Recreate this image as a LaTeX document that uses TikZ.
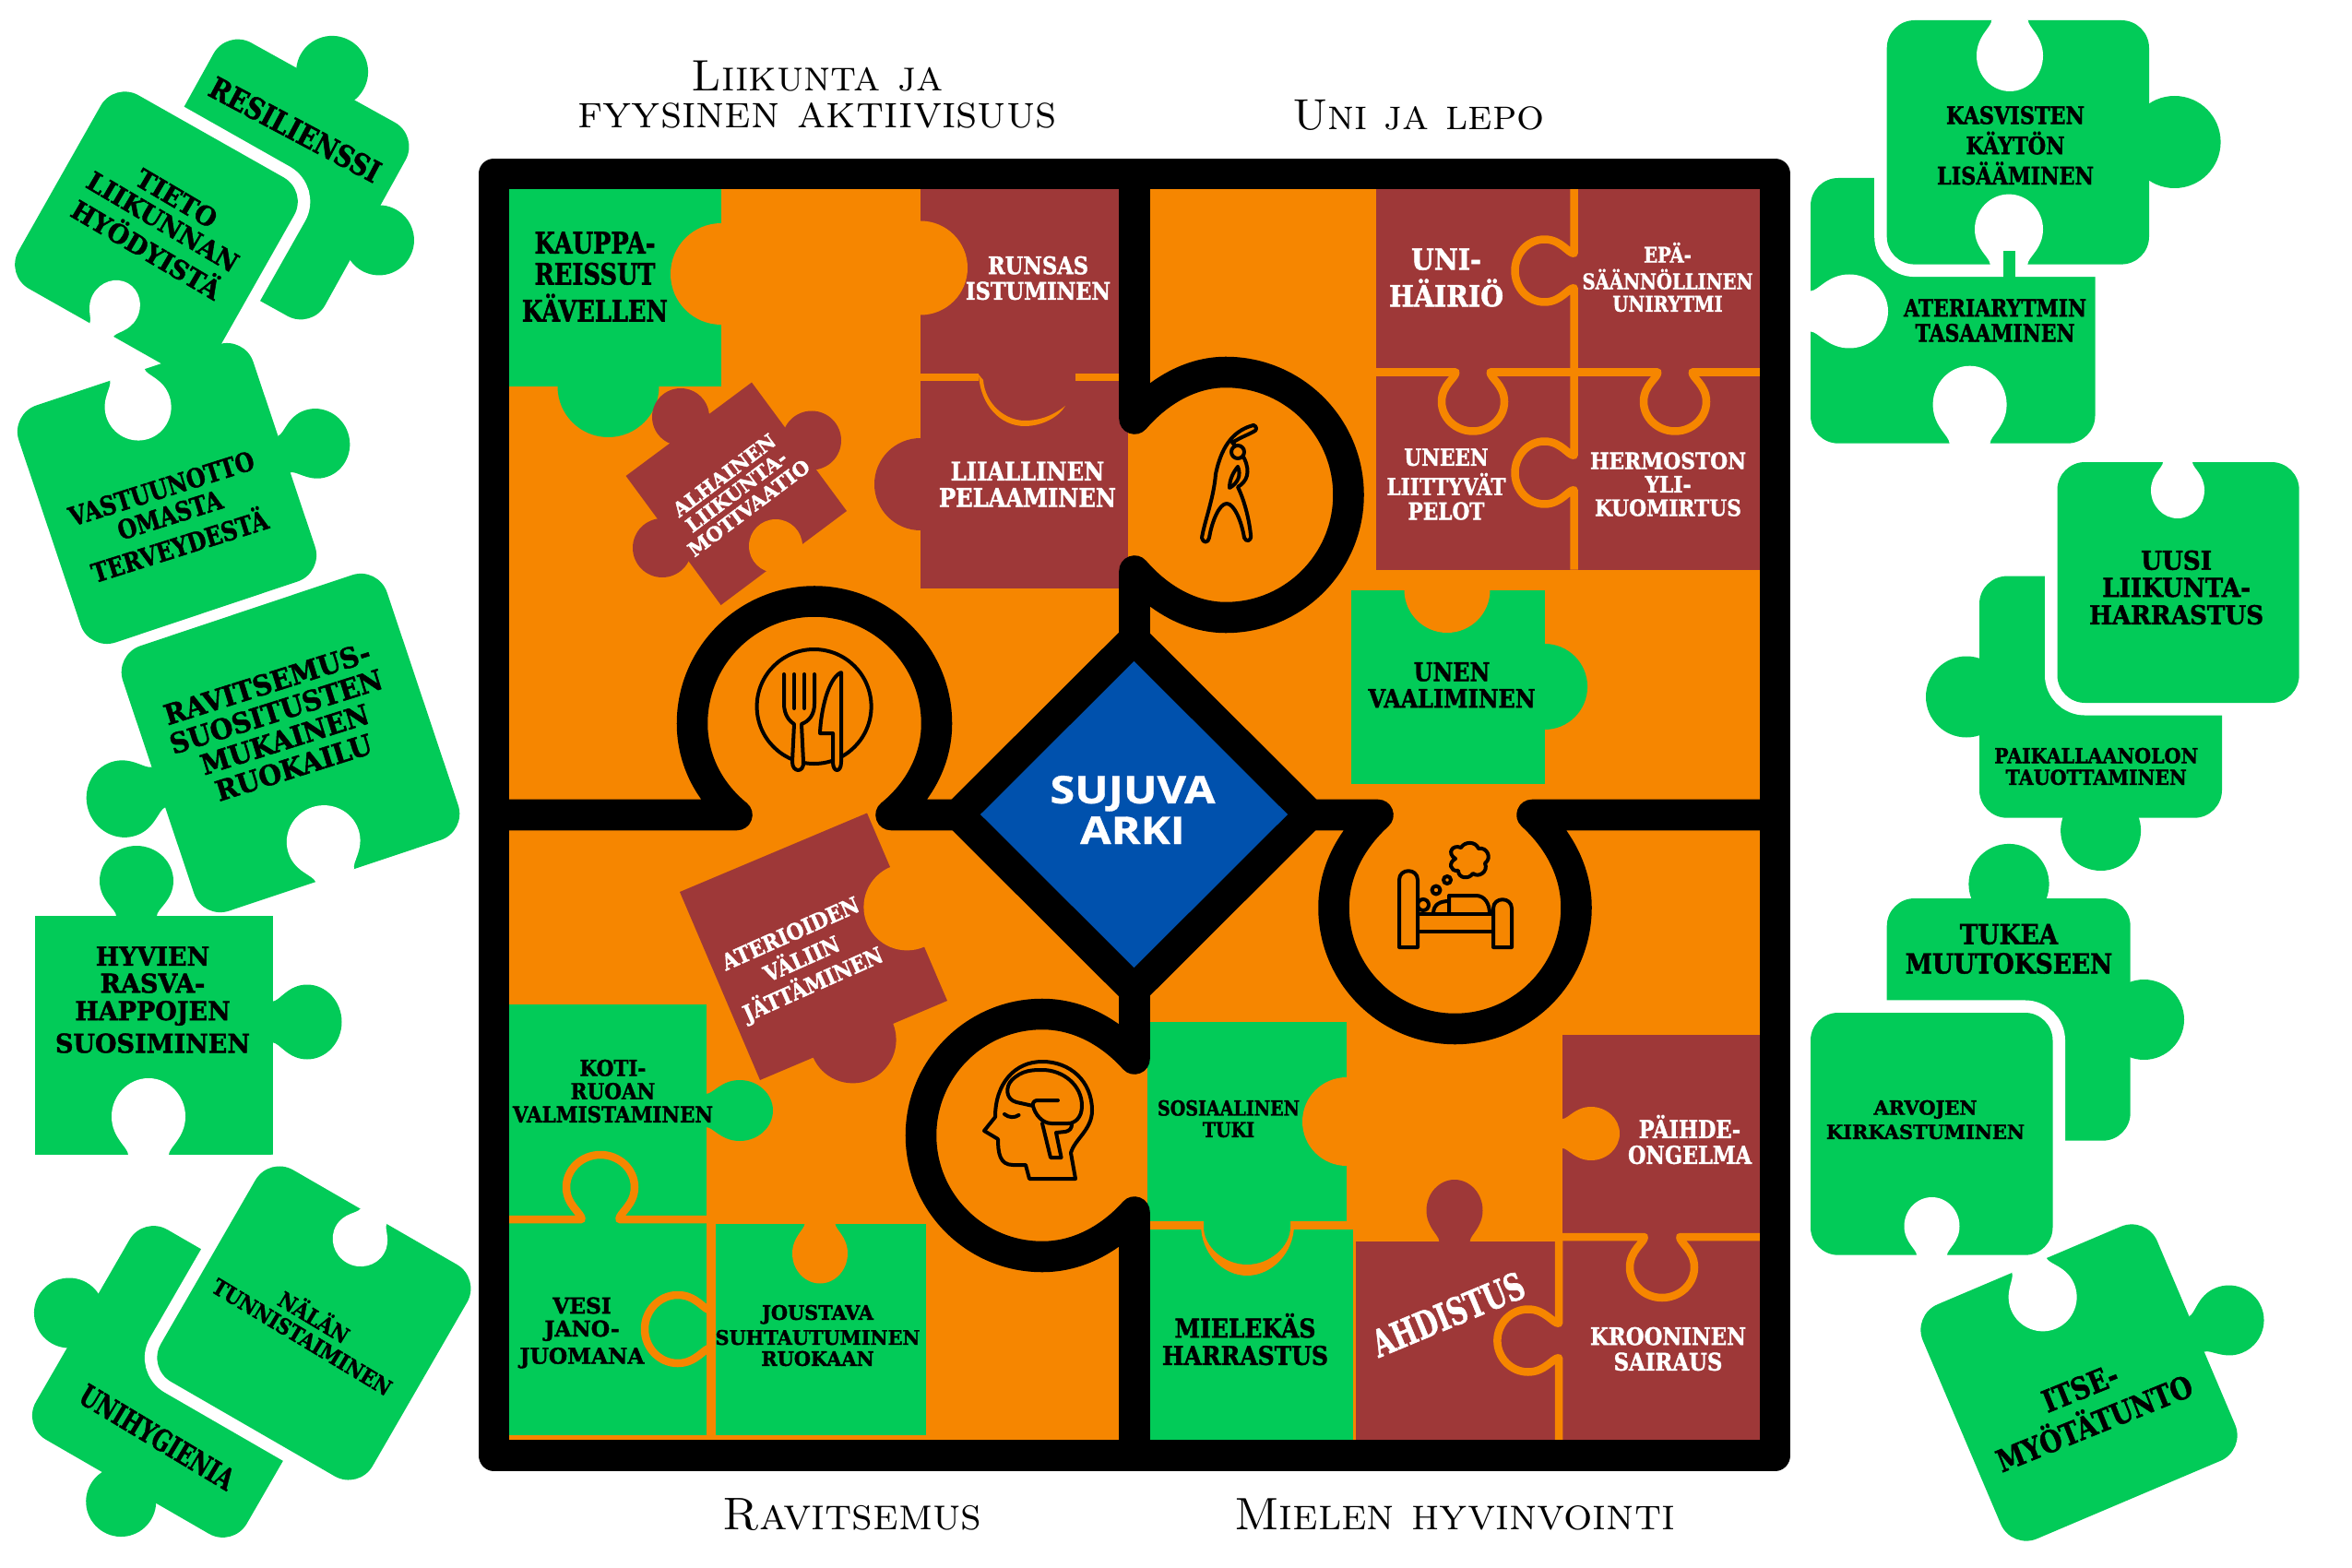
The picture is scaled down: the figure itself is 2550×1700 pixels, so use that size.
\documentclass[tikz,border=0pt]{standalone}
\usepackage{graphicx}
\usepackage{fontspec}
\usepackage{tikz}
\newfontfamily\stencilfont{DejaVu Serif}[BoldFeatures={FakeBold=1.6}]
\newfontfamily\arkifont{Open Sans}[BoldFeatures={FakeBold=0.8}]
\definecolor{pgreen}{RGB}{2,203,88}
\definecolor{porange}{RGB}{246,134,0}
\definecolor{pmaroon}{RGB}{158,56,56}
\definecolor{pblue}{RGB}{0,81,173}
\newlength{\pxu}
\setlength{\pxu}{0.01cm}
\newcommand{\stl}[3]{\resizebox{#1\pxu}{#2\pxu}{\stencilfont\bfseries\shortstack{#3}}}
\newcommand{\ttl}[2]{\resizebox{#1\pxu}{!}{\scshape #2}}
\newcommand{\knobh}[4]{-- ({#1-.55*(#4)},#2) .. controls ({#1-.55*(#4)},{#2+.1*(#3)}) and ({#1-(#4)},{#2+.22*(#3)}) .. ({#1-(#4)},{#2+.5*(#3)}) .. controls ({#1-(#4)},{#2+.775*(#3)}) and ({#1-.55*(#4)},{#2+(#3)}) .. (#1,{#2+(#3)}) .. controls ({#1+.55*(#4)},{#2+(#3)}) and ({#1+(#4)},{#2+.775*(#3)}) .. ({#1+(#4)},{#2+.5*(#3)}) .. controls ({#1+(#4)},{#2+.22*(#3)}) and ({#1+.55*(#4)},{#2+.1*(#3)}) .. ({#1+.55*(#4)},#2)}
\newcommand{\knobv}[4]{-- (#2,{#1-.55*(#4)}) .. controls ({#2+.1*(#3)},{#1-.55*(#4)}) and ({#2+.22*(#3)},{#1-(#4)}) .. ({#2+.5*(#3)},{#1-(#4)}) .. controls ({#2+.775*(#3)},{#1-(#4)}) and ({#2+(#3)},{#1-.55*(#4)}) .. ({#2+(#3)},#1) .. controls ({#2+(#3)},{#1+.55*(#4)}) and ({#2+.775*(#3)},{#1+(#4)}) .. ({#2+.5*(#3)},{#1+(#4)}) .. controls ({#2+.22*(#3)},{#1+(#4)}) and ({#2+.1*(#3)},{#1+.55*(#4)}) .. (#2,{#1+.55*(#4)})}
\newcommand{\tabh}[5]{\fill[#1] (#2,{#3-.15*(#4)}) \knobh{#2}{#3}{#4}{#5} -- cycle;}
\newcommand{\tabv}[5]{\fill[#1] ({#3-.15*(#4)},#2) \knobv{#2}{#3}{#4}{#5} -- cycle;}

\begin{document}
\begin{tikzpicture}[
    x=0.01cm, y=-0.01cm,
    lab/.style={inner sep=0pt, text=black},
    labw/.style={lab, text=white},
    title/.style={inner sep=0pt, text=black},
    card/.style={fill=pgreen, rounded corners=.3cm},
    cardtop/.style={card, preaction={draw=white, line width=.27cm}},
    wall/.style={draw=black, line width=.335cm, line cap=round, line join=round},
    seam/.style={draw=porange, line width=.085cm, line join=round},
    ico/.style={draw=black, line width=.04cm, line join=round, line cap=round}
]
\useasboundingbox (0,0) rectangle (2550,1700);

\begin{scope}[shift={(292,194.5)}, rotate=-29]
  \fill[card] (-119,-120) rectangle (119,120);
  \fill[pgreen] (3,-135) circle (39);
  \fill[pgreen] (136,0) circle (38);
\end{scope}
\begin{scope}[shift={(169.5,252.7)}, rotate=-29.5]
  \path[cardtop] (-120.5,-120.5) rectangle (120.5,120.5);
  \tabh{white}{0}{120.5}{-58}{27}
\end{scope}
\begin{scope}[shift={(181,535)}, rotate=18.5]
  \fill[card] (-134,-135.5) rectangle (134,135.5);
  \tabh{white}{0}{-135.5}{73}{36}
  \tabv{pgreen}{0}{134}{73}{38}
\end{scope}
\begin{scope}[shift={(315,805.5)}, rotate=18.5]
  \fill[card] (-151,-151.5) rectangle (151,151.5);
  \tabv{pgreen}{0}{-151}{-80}{42}
  \tabh{white}{0}{151.5}{-78}{40}
\end{scope}

\fill[pgreen] (38,993) rectangle (295.5,1252);
\tabh{pgreen}{148}{993}{-76}{40}
\tabv{pgreen}{1108}{295.5}{75}{40.5}
\tabh{white}{161}{1252}{-83}{40}

\begin{scope}[shift={(204,1498)}, rotate=-30]
  \fill[card] (-132,-131.5) rectangle (132,131.5);
  \fill[pgreen] (-149,0) circle (38);
  \fill[pgreen] (2,149) circle (38);
\end{scope}
\begin{scope}[shift={(340.4,1434.5)}, rotate=-30]
  \path[cardtop] (-132.5,-132.5) rectangle (132.5,132.5);
  \tabh{white}{-2}{-132.5}{58}{30}
\end{scope}

\fill[card] (1963,193) rectangle (2271.5,480.7);
\tabv{white}{337.5}{1963}{84}{40}
\tabh{white}{2135.6}{480.7}{-84}{40}
\path[cardtop] (2045.7,22) rectangle (2330,286.6);
\tabh{white}{2179}{22}{77}{36}
\fill[pgreen] (2357.6,154) circle (50);
\tabh{white}{2178}{286.6}{-76}{37}
\fill[pgreen] (2172,272) rectangle (2185,302);

\fill[card] (2146,624.6) rectangle (2409,886.7);
\fill[pgreen] (2132,755.5) circle (44);
\fill[pgreen] (2277.6,900.5) circle (43.5);
\path[cardtop] (2230.5,501) rectangle (2492.7,762);
\tabh{white}{2361}{501}{61}{29}

\fill[card] (2045.7,974) rectangle (2309.7,1236.7);
\fill[pgreen] (2178,958.5) circle (43.6);
\fill[pgreen] (2324.5,1105.5) circle (43.5);
\path[cardtop] (1963,1098) rectangle (2225.5,1360.7);
\tabh{white}{2094.5}{1360.7}{-62.7}{30}

\begin{scope}[shift={(2254,1499)}, rotate=23]
  \fill[card] (-138,-138) rectangle (138,138);
  \tabh{white}{0}{-138}{74.4}{37}
  \tabv{pgreen}{1.4}{138}{76}{38}
\end{scope}

\fill[porange] (536,189) rectangle (1924,1578);

\fill[pgreen] (552,205) rectangle (782,419);
\fill[porange] (782,297) circle (55);
\fill[pgreen] (659.5,419) circle (55);

\fill[pmaroon] (998,205) rectangle (1213,415);
\fill[porange] (998,290.5) circle (51);
\fill[pmaroon] (998,412) rectangle (1223,638);
\fill[pmaroon] (998,525) circle (50);
\draw[seam] (998,409) -- (1061,409);
\draw[seam] (1166,409) -- (1213,409);
\fill[porange] (1061,406) .. controls (1063,440) and (1085,462) .. (1111,462) .. controls (1130,462) and (1148,452) .. (1155,440) .. controls (1140,452) and (1125,456) .. (1111,456) .. controls (1090,456) and (1068,438) .. (1066,412) -- cycle;

\fill[pmaroon] (815,414.6) -- (918,554) -- (781.6,656) -- (678.6,516) -- cycle;
\fill[pmaroon] (738,452) circle (31);
\fill[pmaroon] (880,477.5) circle (32);
\fill[pmaroon] (718,594) circle (32);
\fill[porange] (841,592) circle (29);

\fill[pgreen] (1465,639.5) rectangle (1674.6,850);
\fill[porange] (1569,639.5) circle (46.5);
\fill[pgreen] (1674.6,744.5) circle (46.5);

\fill[pmaroon] (1492,205) rectangle (1908,617.5);
\draw[seam] (1706.5,205) \knobv{293.5}{1706.5}{-64}{34} \knobv{512.5}{1706.5}{-64}{34} -- (1706.5,617.5);
\draw[seam] (1492,403.5) \knobh{1597}{403.5}{64}{34} \knobh{1816}{403.5}{64}{34} -- (1908,403.5);

\fill[pmaroon] (940,881.5) -- (1027,1085) -- (824,1171) -- (737,967) -- cycle;
\fill[porange] (983.4,983.4) circle (47);
\fill[pmaroon] (924.6,1127.4) circle (47);

\fill[pgreen] (552,1089) rectangle (766,1325);
\fill[pgreen] (552,1322) rectangle (766,1556);
\fill[pgreen] (775.5,1326.5) rectangle (1004,1556);
\tabv{pgreen}{1204}{766}{72}{33}
\tabh{porange}{889}{1326.5}{65}{30}
\draw[seam] (552,1322) \knobh{651}{1322}{-70}{37} -- (775,1322);
\draw[seam] (770.6,1322) \knobv{1441}{770.6}{-71.6}{37} -- (770.6,1556);

\fill[pgreen] (1244,1108) rectangle (1460,1323.5);
\fill[porange] (1460,1216) circle (48);
\fill[pgreen] (1244,1333) rectangle (1467,1562);
\fill[porange] (1244,1323.5) rectangle (1467,1333);
\fill[porange] (1302,1328) .. controls (1302,1358) and (1325,1383) .. (1352,1383) .. controls (1379,1383) and (1403,1358) .. (1403,1328) -- cycle;
\fill[pgreen] (1305,1323) -- (1305,1330) .. controls (1305,1352) and (1328,1371) .. (1352,1371) .. controls (1376,1371) and (1399,1352) .. (1399,1330) -- (1399,1323) -- cycle;

\fill[pmaroon] (1694,1121.5) rectangle (1908,1350);
\fill[pmaroon] (1470,1345.5) rectangle (1908,1562);
\tabv{porange}{1229}{1694}{62}{29}
\tabh{pmaroon}{1577}{1345.5}{-66.5}{30.5}
\draw[seam] (1686,1341) \knobh{1802}{1341}{66}{35} -- (1908,1341);
\draw[seam] (1690,1337) \knobv{1453.5}{1690}{-66.6}{34} -- (1690,1562);

\draw[wall] (535.5,188.5) rectangle (1924.5,1578);
\draw[wall] (1230,195) -- (1230,454) .. controls (1255,425) and (1290,403.5) .. (1329,403.5) .. controls (1402.5,403.5) and (1462,463) .. (1462,536.5) .. controls (1462,610) and (1402.5,669.5) .. (1329,669.5) .. controls (1290,669.5) and (1255,648) .. (1230,619) -- (1230,700);
\draw[wall] (1230,1060) -- (1230,1148) .. controls (1205,1120) and (1170,1099.5) .. (1130,1099.5) .. controls (1057.4,1099.5) and (998.5,1158.4) .. (998.5,1231) .. controls (998.5,1303.6) and (1057.4,1362.5) .. (1130,1362.5) .. controls (1170,1362.5) and (1205,1342) .. (1230,1314) -- (1230,1570);
\draw[wall] (545,883.5) -- (799,883.5) .. controls (770,860) and (750.5,825) .. (750.5,784.5) .. controls (750.5,711.3) and (809.8,652) .. (883,652) .. controls (956.2,652) and (1015.5,711.3) .. (1015.5,784.5) .. controls (1015.5,825) and (995,860) .. (966,883.5) -- (1050,883.5);
\draw[wall] (1410,883.5) -- (1494,883.5) .. controls (1465,910) and (1446,945) .. (1446,984) .. controls (1446,1056.6) and (1504.9,1115.5) .. (1577.5,1115.5) .. controls (1650.1,1115.5) and (1709,1056.6) .. (1709,984) .. controls (1709,945) and (1690,910) .. (1661,883.5) -- (1915,883.5);
\draw[wall, fill=pblue] (1229.5,693) -- (1420,883) -- (1229.5,1073) -- (1039,883) -- cycle;

\draw[ico, fill=porange] (882.6,766) circle (62);
\draw[ico, fill=porange] (850,731) -- (850,763) .. controls (850,775) and (856,782) .. (861,785) -- (859,826) .. controls (859,838) and (872,838) .. (871,826) -- (869,785) .. controls (877,782) and (883,775) .. (883,763) -- (883,731);
\draw[ico] (861,731) -- (861,768);
\draw[ico] (872,731) -- (872,768);
\draw[ico, fill=porange] (912,729) .. controls (898,735) and (890,770) .. (889,795) -- (903,795) -- (903,826) .. controls (903,838) and (912,838) .. (912,826) -- cycle;

\draw[ico] (1359,461) .. controls (1340,466) and (1325,480) .. (1318,514) .. controls (1316,540) and (1306,565) .. (1303,583) .. controls (1304,589) and (1310,589) .. (1311,583) .. controls (1314,565) and (1322,546) .. (1330,546) .. controls (1338,546) and (1346,565) .. (1349,583) .. controls (1351,588) and (1357,587) .. (1356,580) .. controls (1354,560) and (1348,540) .. (1342,528) .. controls (1352,522) and (1356,512) .. (1349,497) .. controls (1346,492) and (1341,484) .. (1336,480) .. controls (1345,474) and (1352,472) .. (1359,468);
\draw[ico] (1359,461) .. controls (1363,462) and (1363,467) .. (1359,468);
\draw[ico, fill=porange] (1342,490) circle (7);
\draw[ico] (1342,506) .. controls (1346,515) and (1342,524) .. (1333,529) .. controls (1333,520) and (1337,512) .. (1342,506);

\draw[ico] (1517,1027) -- (1517,954) .. controls (1517,941) and (1537,941) .. (1537,954) -- (1537,1027) -- cycle;
\draw[ico] (1619,1027) -- (1619,985) .. controls (1619,972) and (1639,972) .. (1639,985) -- (1639,1027) -- cycle;
\draw[ico] (1537,990.6) rectangle (1619,1010);
\draw[ico] (1543,981) circle (6);
\draw[ico] (1571,990.6) -- (1571,971) -- (1600,971) .. controls (1610,971) and (1615,980) .. (1615,990.6);
\draw[ico] (1554,990.6) .. controls (1554,980) and (1562,977) .. (1571,977);
\draw[ico] (1557,965) circle (4.5);
\draw[ico] (1569,954) circle (4);
\draw[ico] (1578,931) .. controls (1568,925) and (1575,915) .. (1584,919) .. controls (1588,912) and (1600,912) .. (1603,920) .. controls (1612,918) and (1618,930) .. (1610,936) .. controls (1614,945) and (1603,952) .. (1597,947) .. controls (1592,954) and (1581,952) .. (1581,944) .. controls (1572,945) and (1570,935) .. cycle;

\draw[ico] (1116,1278) -- (1166,1278) -- (1161,1250) .. controls (1165,1235) and (1184,1225) .. (1184,1204) .. controls (1184,1172) and (1160,1151) .. (1130,1151) .. controls (1100,1151) and (1079,1175) .. (1079,1211) -- (1067,1226) -- (1082,1235) .. controls (1082,1250) and (1084,1263) .. (1098,1263) -- (1112,1263) -- cycle;
\draw[ico] (1120,1199) -- (1102,1195) .. controls (1090,1192) and (1090,1178) .. (1097,1171) .. controls (1108,1160) and (1120,1160) .. (1130,1160) .. controls (1152,1160) and (1173,1176) .. (1173,1199) .. controls (1173,1212) and (1165,1218) .. (1158,1218) -- (1140,1218) .. controls (1130,1218) and (1122,1208) .. (1120,1199) .. controls (1119,1195) and (1122,1193) .. (1125,1193) -- (1147,1193);
\draw[ico] (1130,1218) -- (1139,1255) -- (1150.6,1255) -- (1145,1228) -- (1155,1227) .. controls (1160,1226) and (1162,1223) .. (1162,1219);
\draw[ico] (1089,1208) .. controls (1094,1212) and (1100,1212) .. (1104.5,1209);

\node[title] (liikunta) at (886,83) {\ttl{273}{Liikunta ja}};
\node[title] (fyysinen) at (886,125) {\ttl{519}{fyysinen aktiivisuus}};
\node[title] (uni) at (1538,125) {\ttl{273}{Uni ja lepo}};
\node[title] (ravitsemus) at (924,1642) {\ttl{281}{Ravitsemus}};
\node[title] (mielen) at (1577,1642) {\ttl{478}{Mielen hyvinvointi}};

\node[labw] (arki) at (1228,878) {\resizebox{179\pxu}{74\pxu}{\arkifont\bfseries\shortstack{SUJUVA\\[-1.6pt]ARKI}}};

\node[lab] (kauppa) at (645,300) {\stl{158}{97}{KAUPPA-\\REISSUT\\KÄVELLEN}};
\node[labw] (runsas) at (1125.5,301.5) {\stl{157}{47}{RUNSAS\\ISTUMINEN}};
\node[labw] (pelaaminen) at (1114,525) {\stl{192}{49}{LIIALLINEN\\PELAAMINEN}};
\node[labw, rotate=37] (alhainen) at (798.5,533) {\stl{159}{60}{ALHAINEN\\LIIKUNTA-\\MOTIVAATIO}};
\node[labw] (unihairio) at (1568,301) {\stl{124}{63}{UNI-\\HÄIRIÖ}};
\node[labw] (unirytmi) at (1808,300.5) {\stl{185}{75}{EPÄ-\\SÄÄNNÖLLINEN\\UNIRYTMI}};
\node[labw] (pelot) at (1568,525) {\stl{129}{77}{UNEEN\\LIITTYVÄT\\PELOT}};
\node[labw] (hermosto) at (1808.5,525) {\stl{169}{69}{HERMOSTON\\YLI-\\KUOMIRTUS}};
\node[lab] (vaaliminen) at (1574,742.7) {\stl{181}{49}{UNEN\\VAALIMINEN}};
\node[labw, rotate=24] (aterioiden) at (870,1041.5) {\stl{163}{78}{ATERIOIDEN\\VÄLIIN\\JÄTTÄMINEN}};
\node[lab] (koti) at (664.5,1183) {\stl{217}{68}{KOTI-\\RUOAN\\VALMISTAMINEN}};
\node[lab] (vesi) at (631,1445) {\stl{135}{72}{VESI\\JANO-\\JUOMANA}};
\node[lab] (joustava) at (886.5,1448) {\stl{222}{66}{JOUSTAVA\\SUHTAUTUMINEN\\RUOKAAN}};
\node[lab] (sosiaalinen) at (1332,1213) {\stl{154}{40}{SOSIAALINEN\\TUKI}};
\node[lab] (mielekas) at (1350,1452) {\stl{180}{56}{MIELEKÄS\\HARRASTUS}};
\node[labw] (paihde) at (1832,1235.5) {\stl{134}{53}{PÄIHDE-\\ONGELMA}};
\node[labw] (krooninen) at (1808.5,1462.5) {\stl{169}{47}{KROONINEN\\SAIRAUS}};
\node[labw, rotate=22.6] (ahdistus) at (1570,1425) {\stl{175}{30}{AHDISTUS}};

\node[lab, rotate=-28] (resilienssi) at (320,140.5) {\stl{205}{24}{RESILIENSSI}};
\node[lab, rotate=-30.5] (tieto) at (175,243) {\stl{185}{86}{TIETO\\LIIKUNNAN\\HYÖDYISTÄ}};
\node[lab, rotate=17.5] (vastuu) at (185,561) {\stl{209}{87}{VASTUUNOTTO\\OMASTA\\TERVEYDESTÄ}};
\node[lab, rotate=17.5] (suositus) at (304,786.5) {\stl{240}{118}{RAVITSEMUS-\\SUOSITUSTEN\\MUKAINEN\\RUOKAILU}};
\node[lab] (rasva) at (165.5,1084) {\stl{211}{115}{HYVIEN\\RASVA-\\HAPPOJEN\\SUOSIMINEN}};
\node[lab, rotate=-31] (nalan) at (335,1437) {\stl{222}{47}{NÄLÄN\\TUNNISTAIMINEN}};
\node[lab, rotate=-31] (unihygienia) at (170.5,1558) {\stl{189}{24}{UNIHYGIENIA}};

\node[lab] (kasvisten) at (2185,157.7) {\stl{170}{85}{KASVISTEN\\KÄYTÖN\\LISÄÄMINEN}};
\node[lab] (ateriarytmi) at (2163,347.5) {\stl{198}{46}{ATERIARYTMIN\\TASAAMINEN}};
\node[lab] (uusi) at (2359.6,637) {\stl{189}{80}{UUSI\\LIIKUNTA-\\HARRASTUS}};
\node[lab] (paikallaan) at (2272.7,831) {\stl{221}{40}{PAIKALLAANOLON\\TAUOTTAMINEN}};
\node[lab] (tukea) at (2178,1028.8) {\stl{224.6}{53.6}{TUKEA\\MUUTOKSEEN}};
\node[lab] (arvojen) at (2087.5,1214) {\stl{215}{42}{ARVOJEN\\KIRKASTUMINEN}};
\node[lab, rotate=22] (itse) at (2263,1524) {\stl{226}{66}{ITSE-\\MYÖTÄTUNTO}};
\end{tikzpicture}
\end{document}
